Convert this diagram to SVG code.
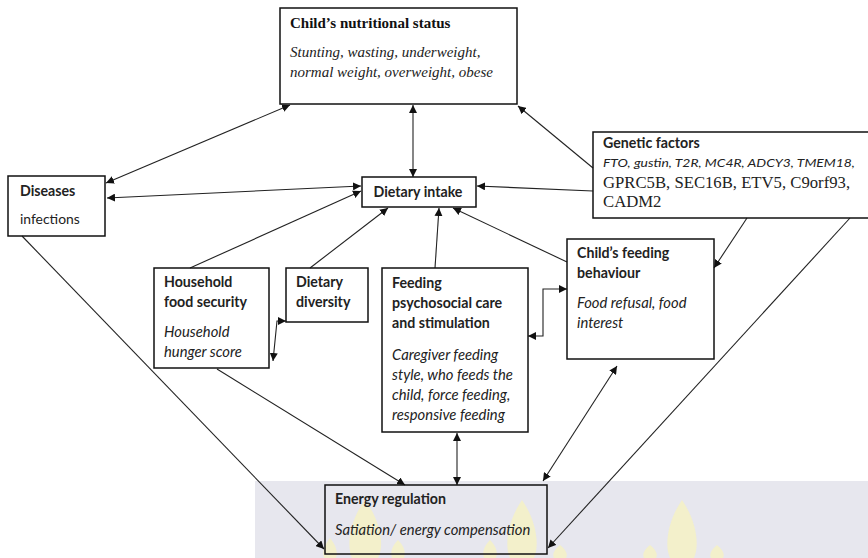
<svg xmlns="http://www.w3.org/2000/svg" width="868" height="558" viewBox="0 0 868 558">
<defs>
<style>
.box{fill:none;stroke:#111;stroke-width:1.5}
.ln{fill:none;stroke:#222;stroke-width:1.1}
.b{font-family:Lato,"Open Sans","Liberation Sans",sans-serif;font-weight:bold;font-size:14.2px;fill:#222}
.i{font-family:Lato,"Open Sans","Liberation Sans",sans-serif;font-style:italic;font-size:14.8px;fill:#222}
.r{font-family:Lato,"Open Sans","Liberation Sans",sans-serif;font-size:13.9px;fill:#222}
.sb{font-family:"Liberation Serif","DejaVu Serif",serif;font-weight:bold;font-size:15px;fill:#111}
.si{font-family:"Liberation Serif","DejaVu Serif",serif;font-style:italic;font-size:15px;fill:#222}
.st{font-family:"Liberation Serif","DejaVu Serif",serif;font-size:16.7px;fill:#222}
</style>
<marker id="ah" viewBox="0 0 10 10" refX="10" refY="5" markerWidth="8" markerHeight="8" markerUnits="userSpaceOnUse" orient="auto-start-reverse">
<path d="M0,0 L10,5 L0,10 z" fill="#111"/>
</marker>
</defs>
<rect x="0" y="0" width="868" height="558" fill="#fff"/>
<g id="watermark">
<rect x="255" y="481" width="613" height="77" fill="#e7e7ee"/>
<g fill="#f6f2c6" opacity="0.85">
<path d="M365,500 C380,520 385,545 378,558 L352,558 C346,545 350,520 365,500 z"/>
<path d="M522,500 C536,520 540,545 534,558 L510,558 C504,545 508,520 522,500 z"/>
<path d="M682,500 C696,520 700,545 694,558 L670,558 C664,545 668,520 682,500 z"/>
<path d="M330,538 C336,545 338,552 336,558 L324,558 C322,552 324,545 330,538 z"/>
<path d="M398,540 C404,546 406,552 404,558 L392,558 C390,552 392,546 398,540 z"/>
<path d="M490,540 C496,546 498,552 496,558 L484,558 C482,552 484,546 490,540 z"/>
<path d="M560,545 C566,550 568,554 566,558 L554,558 C552,554 554,550 560,545 z"/>
<path d="M650,545 C656,550 658,554 656,558 L644,558 C642,554 644,550 650,545 z"/>
<path d="M717,545 C723,550 725,554 723,558 L711,558 C709,554 711,550 717,545 z"/>
</g>
</g>
<g id="connectors">
<line class="ln" x1="290" y1="105" x2="106" y2="183" marker-start="url(#ah)" marker-end="url(#ah)"/>
<line class="ln" x1="413" y1="105" x2="413" y2="177" marker-start="url(#ah)" marker-end="url(#ah)"/>
<line class="ln" x1="593" y1="168" x2="518" y2="106" marker-end="url(#ah)"/>
<line class="ln" x1="593" y1="191" x2="477" y2="186" marker-end="url(#ah)"/>
<line class="ln" x1="107" y1="198" x2="361" y2="186" marker-start="url(#ah)" marker-end="url(#ah)"/>
<line class="ln" x1="190" y1="268" x2="361" y2="191" marker-end="url(#ah)"/>
<line class="ln" x1="310" y1="268" x2="388" y2="208" marker-end="url(#ah)"/>
<line class="ln" x1="435" y1="268" x2="439" y2="208" marker-end="url(#ah)"/>
<line class="ln" x1="567" y1="262" x2="453" y2="208" marker-end="url(#ah)"/>
<line class="ln" x1="747" y1="218" x2="714" y2="268" marker-end="url(#ah)"/>
<line class="ln" x1="850" y1="218" x2="548" y2="548" marker-end="url(#ah)"/>
<line class="ln" x1="22" y1="236" x2="324" y2="549" marker-end="url(#ah)"/>
<line class="ln" x1="217" y1="369" x2="405" y2="485" marker-end="url(#ah)"/>
<line class="ln" x1="457" y1="433" x2="457" y2="485" marker-start="url(#ah)" marker-end="url(#ah)"/>
<line class="ln" x1="617" y1="366" x2="543" y2="481" marker-start="url(#ah)" marker-end="url(#ah)"/>
<polyline class="ln" points="286,321 277,321 273,361" marker-start="url(#ah)" marker-end="url(#ah)"/>
<polyline class="ln" points="567,289 543,289 543,336 528,336" marker-start="url(#ah)" marker-end="url(#ah)"/>
</g>
<g id="nutritional-status">
<rect class="box" x="280" y="8" width="237" height="96"/>
<text class="sb" x="290" y="28">Child’s nutritional status</text>
<text class="si" x="290" y="57">Stunting, wasting, underweight,</text>
<text class="si" x="290" y="77">normal weight, overweight, obese</text>
</g>
<g id="genetic-factors">
<rect class="box" x="593" y="132" width="276" height="86"/>
<text class="b" x="603" y="148">Genetic factors</text>
<text class="i" x="603" y="167" style="font-size:11px" textLength="252" lengthAdjust="spacingAndGlyphs">FTO, gustin, T2R, MC4R, ADCY3, TMEM18,</text>
<text class="st" x="603" y="188">GPRC5B, SEC16B, ETV5, C9orf93,</text>
<text class="st" x="603" y="207">CADM2</text>
</g>
<g id="diseases">
<rect class="box" x="8" y="176" width="97" height="60"/>
<text class="b" x="20" y="196">Diseases</text>
<text class="r" x="20" y="224">infections</text>
</g>
<g id="dietary-intake">
<rect class="box" x="362" y="177" width="114" height="30"/>
<text class="b" x="418" y="197" text-anchor="middle">Dietary intake</text>
</g>
<g id="household-food-security">
<rect class="box" x="154" y="268" width="115" height="100"/>
<text class="b" x="164" y="287">Household</text>
<text class="b" x="164" y="307">food security</text>
<text class="i" x="164" y="337">Household</text>
<text class="i" x="164" y="357">hunger score</text>
</g>
<g id="dietary-diversity">
<rect class="box" x="286" y="268" width="82" height="54"/>
<text class="b" x="296" y="287">Dietary</text>
<text class="b" x="296" y="307">diversity</text>
</g>
<g id="feeding-psychosocial">
<rect class="box" x="382" y="268" width="146" height="164"/>
<text class="b" x="392" y="288">Feeding</text>
<text class="b" x="392" y="308">psychosocial care</text>
<text class="b" x="392" y="328">and stimulation</text>
<text class="i" x="392" y="360">Caregiver feeding</text>
<text class="i" x="392" y="380">style, who feeds the</text>
<text class="i" x="392" y="400">child, force feeding,</text>
<text class="i" x="392" y="420">responsive feeding</text>
</g>
<g id="feeding-behaviour">
<rect class="box" x="567" y="239" width="147" height="120"/>
<text class="b" x="577" y="258">Child’s feeding</text>
<text class="b" x="577" y="278">behaviour</text>
<text class="i" x="577" y="308">Food refusal, food</text>
<text class="i" x="577" y="328">interest</text>
</g>
<g id="energy-regulation">
<rect class="box" x="325" y="485" width="222" height="69"/>
<text class="b" x="335" y="504">Energy regulation</text>
<text class="i" x="335" y="535">Satiation/ energy compensation</text>
</g>
</svg>
